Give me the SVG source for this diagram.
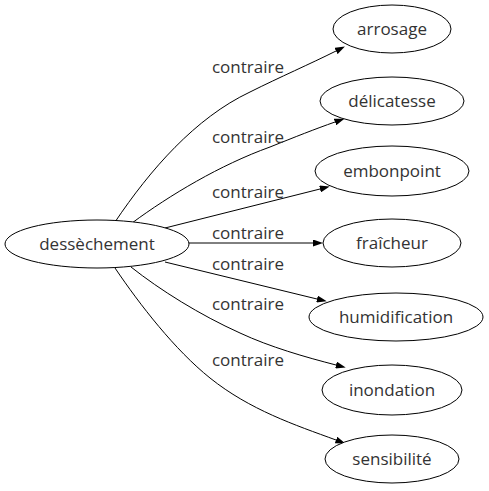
<svg xmlns="http://www.w3.org/2000/svg" width="489" height="491" viewBox="0 0 489 491">
<style>
.n ellipse{fill:#fff;stroke:#000;stroke-width:1}
text{font-family:"Open Sans","DejaVu Sans",sans-serif;font-size:17px;fill:#333;text-anchor:middle}
.e path{fill:none;stroke:#000;stroke-width:1;marker-end:url(#ah)}
</style>
<defs>
<marker id="ah" viewBox="0 0 10 7" refX="0" refY="3.5" markerWidth="10" markerHeight="7" markerUnits="userSpaceOnUse" orient="auto">
<path d="M0,0 L10,3.5 L0,7 z" fill="#000"/>
</marker>
</defs>
<rect width="489" height="491" fill="#fff"/>
<g id="edges" class="e">
<path d="M115,222 C150,170 195,118 250,92 C280,77 310,64 336,51"/>
<path d="M132,223 C170,195 220,165 270,147 C295,137 315,129 335,122"/>
<path d="M165,228 L320,189"/>
<path d="M188,243 L313,243"/>
<path d="M165,262 L317,299"/>
<path d="M131,267 C160,290 200,315 240,333 C270,347 305,357 336,365"/>
<path d="M115,268 C140,305 175,350 210,378 C250,410 295,425 336,440"/>
</g>
<g id="edge-labels">
<text x="248" y="73">contraire</text>
<text x="248" y="143">contraire</text>
<text x="248" y="198">contraire</text>
<text x="248" y="239">contraire</text>
<text x="248" y="270">contraire</text>
<text x="248" y="310">contraire</text>
<text x="248" y="366">contraire</text>
</g>
<g id="n-dessechement" class="n"><ellipse cx="97" cy="244" rx="92" ry="24"/><text x="97" y="250">dessèchement</text></g>
<g id="n-arrosage" class="n"><ellipse cx="392" cy="29" rx="59" ry="24"/><text x="392" y="35">arrosage</text></g>
<g id="n-delicatesse" class="n"><ellipse cx="392" cy="101" rx="72" ry="24"/><text x="392" y="107">délicatesse</text></g>
<g id="n-embonpoint" class="n"><ellipse cx="392" cy="171" rx="77" ry="25"/><text x="392" y="177">embonpoint</text></g>
<g id="n-fraicheur" class="n"><ellipse cx="392" cy="243" rx="69" ry="24"/><text x="392" y="249">fraîcheur</text></g>
<g id="n-humidification" class="n"><ellipse cx="396" cy="317" rx="87" ry="24"/><text x="396" y="323">humidification</text></g>
<g id="n-inondation" class="n"><ellipse cx="392" cy="390" rx="70" ry="25"/><text x="392" y="396">inondation</text></g>
<g id="n-sensibilite" class="n"><ellipse cx="392" cy="459" rx="67" ry="24"/><text x="392" y="465">sensibilité</text></g>
</svg>
